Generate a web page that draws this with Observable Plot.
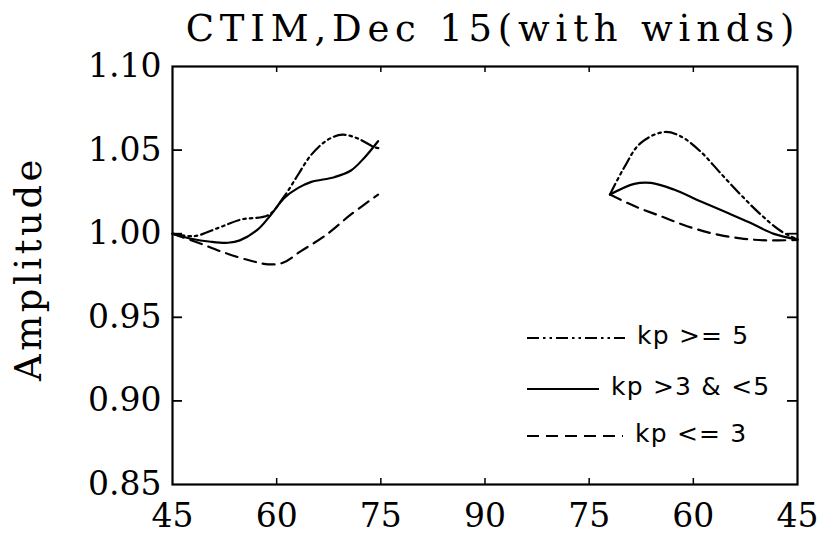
<!DOCTYPE html>
<html><head><meta charset="utf-8">
<script src="https://cdn.jsdelivr.net/npm/d3@7"></script>
<script src="https://cdn.jsdelivr.net/npm/@observablehq/plot@0.6"></script>
<style>body{margin:0;background:#fff} svg{display:block}</style>
</head><body><div id="chart"></div>
<script>
// ---- text ----
const titleText = "CTIM,Dec 15(with winds)";
const yLabelText = "Amplitude";
const seriesNames = ["kp >= 5", "kp >3 & <5", "kp <= 3"];
const seriesDash = ["12,4,2.5,4,2.5,4", "none", "12,7"];

// ---- axis ticks ----
const xTickPos = [0, 15, 30, 45, 60, 75, 90];
const xTickLabels = ["45", "60", "75", "90", "75", "60", "45"];
const yTicks = [0.85, 0.90, 0.95, 1.00, 1.05, 1.10];

// ---- data: left panel (latitude 45 -> 75) ----
const latHighL = [45, 48.2, 51.6, 54.9, 58.8, 61.1, 63.1, 65.0, 67.4, 69.5, 71.7, 74.1, 75];
const valHighL = [1.000, 0.9986, 1.0035, 1.0085, 1.0111, 1.0224, 1.0354, 1.0473, 1.0563, 1.0592, 1.0569, 1.0517, 1.051];
const latMidL  = [45, 47.7, 50.5, 53.0, 54.7, 57.3, 59.2, 61.1, 63.1, 65.0, 68.3, 70.7, 72.6, 74.6];
const valMidL  = [1.000, 0.997, 0.9952, 0.9946, 0.996, 1.0026, 1.0115, 1.0214, 1.0274, 1.031, 1.0338, 1.0378, 1.0453, 1.0553];
const latLowL  = [45, 48.7, 52.5, 56.4, 58.8, 60.9, 63.5, 66.9, 70.7, 74.6];
const valLowL  = [1.000, 0.9946, 0.9886, 0.9837, 0.9817, 0.9826, 0.9896, 0.9986, 1.0115, 1.0234];

// ---- data: right panel (latitude 72 -> 45) ----
const latHighR = [72, 70.0, 67.6, 64.2, 61.8, 59.0, 56.1, 53.2, 50.3, 47.4, 45];
const valHighR = [1.0234, 1.0393, 1.0542, 1.0608, 1.0582, 1.0493, 1.0363, 1.0234, 1.0115, 1.0016, 0.9966];
const latMidR  = [72, 68.5, 66.1, 62.8, 59.0, 55.1, 51.8, 48.4, 45];
const valMidR  = [1.0234, 1.0298, 1.0304, 1.0264, 1.0194, 1.0125, 1.0065, 0.9999, 0.9966];
const latLowR  = [72, 68.5, 64.7, 60.9, 57.0, 53.2, 49.4, 45];
const valLowR  = [1.0234, 1.0165, 1.0105, 1.0045, 0.9999, 0.9972, 0.996, 0.9963];

// position along the x axis: left panel runs 45->90, right panel 90->45
const pos = (lat, side) => side === "L" ? lat - 45 : 135 - lat;
function rows(lats, vals, side) {
  return lats.map((lat, i) => ({pos: pos(lat, side), v: vals[i], side}));
}
const seriesData = [
  [...rows(latHighL, valHighL, "L"), ...rows(latHighR, valHighR, "R")],
  [...rows(latMidL, valMidL, "L"), ...rows(latMidR, valMidR, "R")],
  [...rows(latLowL, valLowL, "L"), ...rows(latLowR, valLowR, "R")]
];

const W = 819, H = 552, mL = 172, mR = 22, mT = 66, mB = 68;
const innerW = W - mL - mR, innerH = H - mT - mB;
const yInner = yTicks.slice(1, -1);
const xInner = xTickPos.slice(1, -1);

const chart = Plot.plot({
  width: W, height: H,
  marginLeft: mL, marginRight: mR, marginTop: mT, marginBottom: mB,
  style: {fontFamily: "'DejaVu Serif', serif", background: "white", color: "black"},
  x: {domain: [0, 90]},
  y: {domain: [0.85, 1.10]},
  marks: [
    Plot.frame({stroke: "black", strokeWidth: 2.2}),
    Plot.axisX({ticks: xTickPos, tickSize: 0, tickPadding: 19, fontSize: 33, label: null,
      tickFormat: d => xTickLabels[xTickPos.indexOf(d)]}),
    Plot.axisY({ticks: yTicks, tickSize: 0, tickPadding: 11, fontSize: 33, label: null,
      tickFormat: d3.format(".2f")}),
    Plot.tickX(xInner, {x: d => d, insetTop: innerH - 6, strokeWidth: 1.5}),
    Plot.tickX(xInner, {x: d => d, insetBottom: innerH - 6, strokeWidth: 1.5}),
    Plot.tickY(yInner, {y: d => d, insetRight: innerW - 10, strokeWidth: 1.8}),
    Plot.tickY(yInner, {y: d => d, insetLeft: innerW - 10, strokeWidth: 1.8}),
    ...seriesData.map((data, i) => Plot.line(data, {
      x: "pos", y: "v", z: "side", curve: "catmull-rom",
      stroke: "black", strokeWidth: 2.2, strokeDasharray: seriesDash[i]
    })),
    Plot.text([titleText], {frameAnchor: "top", dy: -26, dx: 8, lineAnchor: "bottom", fontSize: 37}),
    Plot.text([yLabelText], {frameAnchor: "left", textAnchor: "middle", dx: -132, dy: -7,
      rotate: -90, lineAnchor: "bottom", fontSize: 37})
  ]
});

const svg = d3.select(chart);
svg.selectAll("text").filter(function() { return this.textContent === titleText; })
  .attr("letter-spacing", 5.8);
svg.selectAll("text").filter(function() { return this.textContent === yLabelText; })
  .attr("letter-spacing", 3.5);

// legend inside the frame
const legendY = [335, 386, 433];
const legendX1 = 527;
const legendX2 = [625, 599, 623];
const lg = svg.append("g").attr("font-family", "'DejaVu Sans', sans-serif").attr("font-size", 25)
  .attr("text-anchor", "start").attr("letter-spacing", 1.2);
seriesNames.forEach((name, i) => {
  lg.append("line").attr("x1", legendX1).attr("x2", legendX2[i])
    .attr("y1", legendY[i] + 3).attr("y2", legendY[i] + 3)
    .attr("stroke", "black").attr("stroke-width", 2.2)
    .attr("stroke-dasharray", seriesDash[i]);
  lg.append("text").attr("x", legendX2[i] + 12).attr("y", legendY[i])
    .attr("dominant-baseline", "central").attr("text-anchor", "start")
    .attr("fill", "black").text(name);
});

document.getElementById("chart").appendChild(chart);
</script>
</body></html>
